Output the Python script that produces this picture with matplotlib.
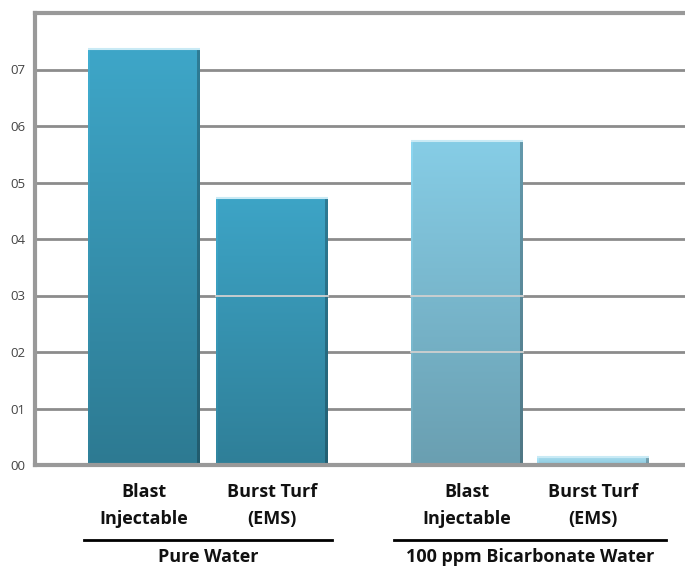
import numpy as np
import matplotlib
matplotlib.use("Agg")
import matplotlib.pyplot as plt
from matplotlib.colors import to_rgb

# Data
groups = ["Pure Water", "100 ppm Bicarbonate Water"]
products = [["Blast", "Injectable"], ["Burst Turf", "(EMS)"]]
values = [7.36, 4.73, 5.74, 0.14]
tick_values = [0, 1, 2, 3, 4, 5, 6, 7]
tick_labels = ["00", "01", "02", "03", "04", "05", "06", "07"]

# bar layout and style
positions = [0.0, 1.0, 2.52, 3.51]
width = 0.875
top_colors = ["#3ea6c8", "#3da4c6", "#86cde6", "#a6dcee"]
bottom_colors = ["#2d7a92", "#2f7f98", "#6a9fb1", "#8cc8de"]
group_pads = [0.03, 0.13]

plt.rcParams["font.family"] = ["Open Sans", "DejaVu Sans"]

fig = plt.figure(figsize=(6.85, 5.66), dpi=100)
ax = fig.add_axes([35 / 685, 101 / 566, 650 / 685, 452 / 566])

# gridlines
for t in tick_values[1:]:
    ax.axhline(t, color="#8c8c8c", lw=2.0, zorder=1)

# gradient bars
for x, h, ct, cb in zip(positions, values, top_colors, bottom_colors):
    ct, cb = np.array(to_rgb(ct)), np.array(to_rgb(cb))
    ny, nx = 100, 112
    fy = np.linspace(0, 1, ny)[:, None, None]
    img = ct * (1 - fy) + cb * fy
    img = np.repeat(img, nx, axis=1)
    # darker right edge, slightly lighter left edge
    shade = np.ones(nx)
    shade[-3:] = 0.75
    shade[:2] = 1.05
    img = np.clip(img * shade[None, :, None], 0, 1)
    ax.imshow(img, extent=[x - width / 2, x + width / 2, 0, h],
              aspect="auto", interpolation="bilinear", zorder=2)
    # highlight at the top of the bar
    ax.plot([x - width / 2, x + width / 2], [h, h], color="#c9eaf5",
            lw=1.5, zorder=3, solid_capstyle="butt")

# faint light lines crossing some bars, as in the reference
for i, lvl in [(1, 3), (2, 3), (2, 2)]:
    ax.plot([positions[i] - width / 2, positions[i] + width / 2], [lvl, lvl],
            color="#d0d0d0", lw=1.3, zorder=3)

ax.set_xlim(-0.852, 4.227)
ax.set_ylim(0, 8)

ax.set_yticks(tick_values)
ax.set_yticklabels(tick_labels, fontsize=9.5, color="#444444")
ax.tick_params(axis="y", length=0, pad=7)
ax.set_xticks([])

for side in ["left", "top", "bottom"]:
    ax.spines[side].set_color("#999999")
    ax.spines[side].set_linewidth(3)
ax.spines["right"].set_visible(False)

# category labels
trans = ax.get_xaxis_transform()
for i, x in enumerate(positions):
    for line, y in zip(products[i % 2], [-0.0597, -0.1195]):
        ax.text(x, y, line, transform=trans, ha="center", va="center",
                fontsize=13, fontweight="bold", color="#111111")

# group underline and names
for g, name in enumerate(groups):
    left = positions[2 * g] - width / 2 - group_pads[g]
    right = positions[2 * g + 1] + width / 2 + group_pads[g]
    ax.plot([left, right], [-0.166, -0.166], transform=trans, color="black",
            lw=2, clip_on=False)
    ax.text((left + right) / 2, -0.2035, name, transform=trans, ha="center",
            va="center", fontsize=13, fontweight="bold", color="#111111")

fig.savefig("out.png", dpi=100)
